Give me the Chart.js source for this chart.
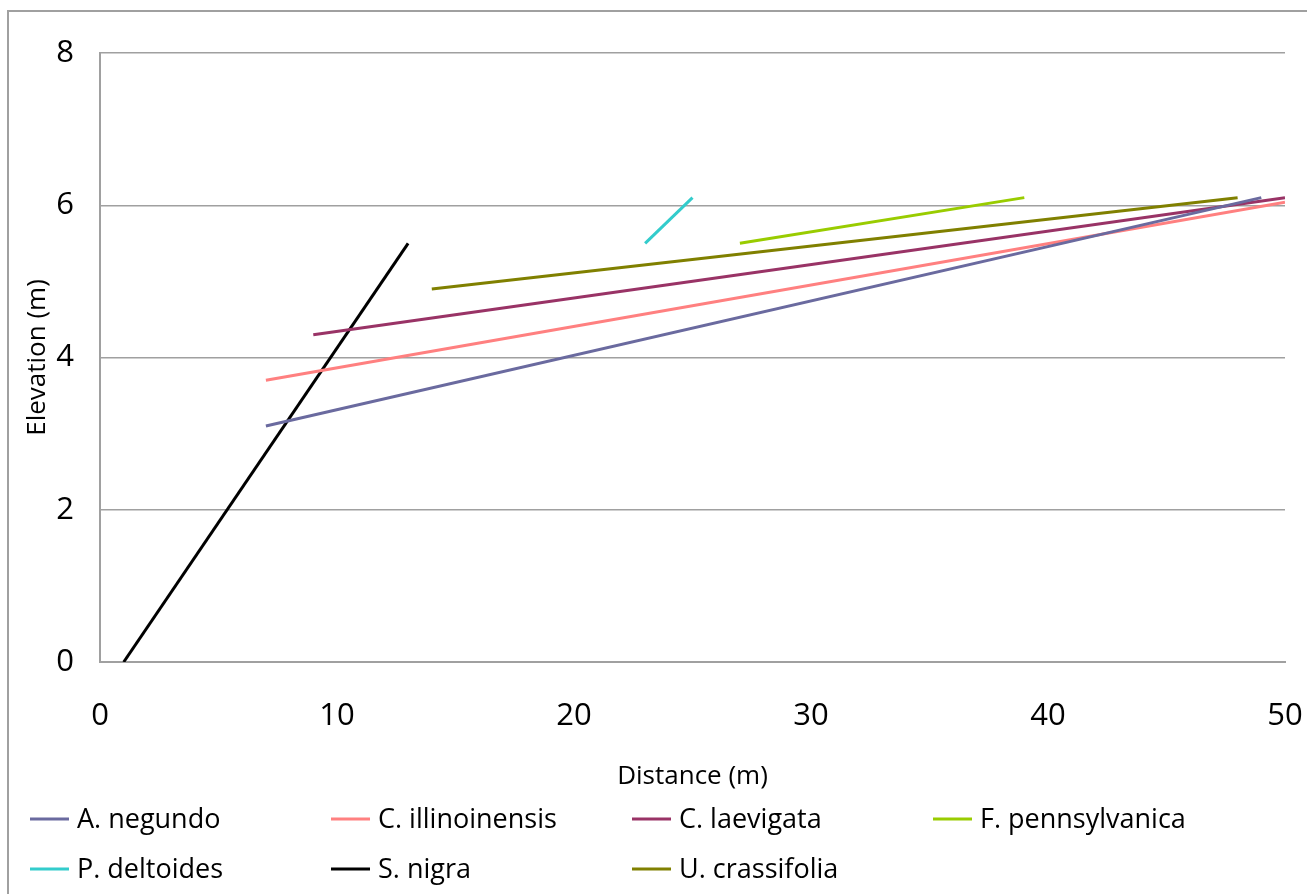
<!DOCTYPE html>
<html>
<head>
<meta charset="utf-8">
<script src="https://cdn.jsdelivr.net/npm/chart.js@4/dist/chart.umd.min.js"></script>
<style>
  html, body { margin: 0; padding: 0; background: #fff; }
  #wrap { position: relative; width: 1307px; height: 894px; }
  #frame { position: absolute; left: 7px; top: 10px; width: 1320px; height: 900px; border: 2px solid #a0a0a0; box-sizing: border-box; }
</style>
</head>
<body>
<div id="wrap">
  <div id="frame"></div>
  <canvas id="chart" width="1307" height="894"></canvas>
</div>
<script>
// species names, legend order
const species = ['A. negundo', 'C. illinoinensis', 'C. laevigata', 'F. pennsylvanica', 'P. deltoides', 'S. nigra', 'U. crassifolia'];
const colors = ['#6A6A9F', '#FF8080', '#993366', '#99CC00', '#33CCCC', '#000000', '#808000'];

// each line: [start distance, end distance] and [start elevation, end elevation]
const distances = [[7, 49], [7, 50], [9, 50], [27, 39], [23, 25], [1, 13], [14, 48]];
const elevations = [[3.1, 6.1], [3.7, 6.04], [4.3, 6.1], [5.5, 6.1], [5.5, 6.1], [0, 5.5], [4.9, 6.1]];

const xTicks = [0, 10, 20, 30, 40, 50];
const yTicks = [0, 2, 4, 6, 8];

const FONT = 'Open Sans';

// draws the 4-column legend in the space below the axis
const gridLegend = {
  id: 'gridLegend',
  afterDraw(chart) {
    const ctx = chart.ctx;
    ctx.save();
    ctx.font = `27px "${FONT}"`;
    ctx.textBaseline = 'middle';
    chart.data.datasets.forEach((ds, i) => {
      const col = i % 4, row = Math.floor(i / 4);
      const x = 30 + col * 301;
      const y = 819 + row * 50;
      ctx.strokeStyle = ds.borderColor;
      ctx.lineWidth = 3;
      ctx.beginPath();
      ctx.moveTo(x, y);
      ctx.lineTo(x + 39, y);
      ctx.stroke();
      ctx.fillStyle = '#000';
      ctx.fillText(ds.label, x + 47, y + 1);
    });
    ctx.restore();
  }
};

new Chart(document.getElementById('chart').getContext('2d'), {
  type: 'scatter',
  data: {
    datasets: species.map((name, i) => ({
      label: name,
      data: distances[i].map((d, k) => ({ x: d, y: elevations[i][k] })),
      showLine: true,
      borderColor: colors[i],
      backgroundColor: colors[i],
      borderWidth: 3,
      pointRadius: 0,
      tension: 0
    }))
  },
  options: {
    responsive: false,
    animation: false,
    layout: { padding: { left: 0, top: 53, right: 22, bottom: 0 } },
    plugins: {
      legend: { display: false },
      tooltip: { enabled: false }
    },
    scales: {
      x: {
        type: 'linear',
        min: 0, max: 50,
        afterBuildTicks: (s) => { s.ticks = xTicks.map(v => ({ value: v })); },
        afterFit: (s) => { s.height = 894 - 662; s.paddingLeft = 0; s.paddingRight = 0; },
        grid: { display: false, drawTicks: false },
        border: { display: true, color: '#a0a0a0', width: 2 },
        ticks: { color: '#000', padding: 36, font: { family: FONT, size: 31 }, maxRotation: 0 },
        title: { display: true, text: 'Distance (m)', color: '#000', font: { family: FONT, size: 26 }, padding: { top: 0, bottom: 102 } }
      },
      y: {
        type: 'linear',
        min: 0, max: 8,
        afterBuildTicks: (s) => { s.ticks = yTicks.map(v => ({ value: v })); },
        afterFit: (s) => { s.width = 100; s.paddingTop = 0; s.paddingBottom = 0; },
        grid: { color: '#a0a0a0', lineWidth: 1.5, drawTicks: false },
        border: { display: true, color: '#a0a0a0', width: 2 },
        ticks: { color: '#000', padding: 26, font: { family: FONT, size: 31 } },
        title: { display: true, text: 'Elevation (m)', color: '#000', font: { family: FONT, size: 26 }, padding: { top: 22, bottom: 0 } }
      }
    }
  },
  plugins: [gridLegend]
});
</script>
</body>
</html>
